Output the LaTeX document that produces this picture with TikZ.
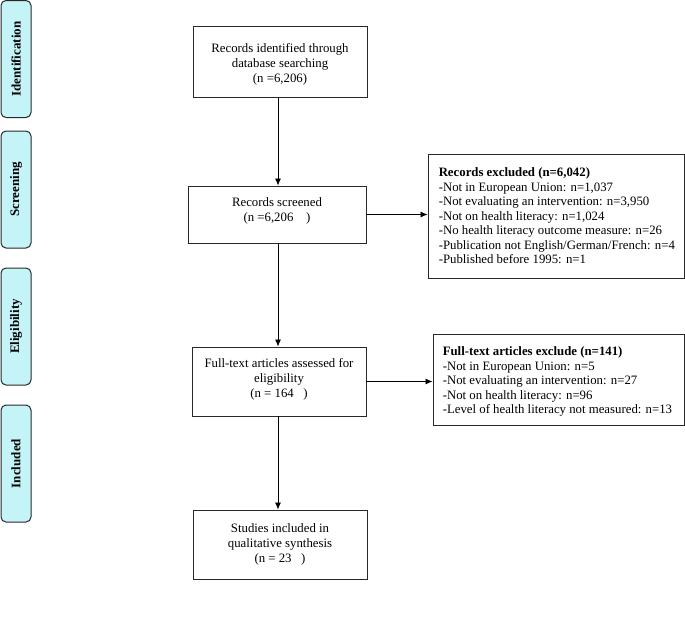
\documentclass[tikz,border=0pt]{standalone}
\usepackage{fontspec}
\setmainfont{Liberation Serif}
\usetikzlibrary{arrows.meta}
\definecolor{stagecyan}{RGB}{196,244,248}
\definecolor{boxline}{RGB}{40,40,40}
\begin{document}
\begin{tikzpicture}[x=1pt,y=-1pt,
  stage/.style={draw=boxline, line width=1pt, rounded corners=5pt, fill=stagecyan,
    rotate=90, minimum width=117pt, minimum height=30pt, inner sep=0pt,
    font=\fontsize{13}{15}\selectfont\bfseries},
  mainbox/.style={draw=boxline, line width=0.9pt, inner sep=0pt,
    align=center, font=\fontsize{12.8}{15}\selectfont},
  sidebox/.style={draw=boxline, line width=0.9pt, inner sep=0pt},
  sidetext/.style={anchor=west, align=left, inner sep=0pt, font=\fontsize{12.8}{14.5}\selectfont},
  flow/.style={draw=black, line width=0.8pt, -{Latex[length=7pt,width=6pt]}}
]
\useasboundingbox (0,0) rectangle (685,616);

% stage labels
\node[stage] (s1) at (16,59) {Identification};
\node[stage] (s2) at (16,189.5) {Screening};
\node[stage] (s3) at (16,326.5) {Eligibility};
\node[stage] (s4) at (16,463.5) {Included};

% main boxes
\node[mainbox, minimum width=174pt, minimum height=71pt] (b1) at (280,61.5)
  {\rule{0pt}{14pt}Records identified through\\database searching\\(n =6,206)};
\node[mainbox, minimum width=178pt, minimum height=57pt] (b2) at (277,214.5)
  {Records screened\\(n =6,206\ \ \ \ )\rule[-9pt]{0pt}{9pt}};
\node[mainbox, minimum width=174pt, minimum height=69pt] (b3) at (279,381.5)
  {Full-text articles assessed for\\eligibility\\(n = 164\ \ \ )\rule[-7pt]{0pt}{7pt}};
\node[mainbox, minimum width=174pt, minimum height=69pt] (b4) at (280,544.5)
  {Studies included in\\qualitative synthesis\\(n = 23\ \ \ )};

% exclusion boxes
\node[sidebox, minimum width=256pt, minimum height=124pt] (r1) at (556,216) {};
\node[sidetext] (r1t) at ([xshift=11pt]r1.west)
  {\textbf{Records excluded (n=6,042)}\\
   -Not in European Union: n=1,037\\
   -Not evaluating an intervention: n=3,950\\
   -Not on health literacy: n=1,024\\
   -No health literacy outcome measure: n=26\\
   -Publication not English/German/French: n=4\\
   -Published before 1995: n=1};
\node[sidebox, minimum width=251pt, minimum height=91pt] (r2) at (558.5,379.5) {};
\node[sidetext] (r2t) at ([xshift=10pt,yshift=-2pt]r2.west)
  {\textbf{Full-text articles exclude (n=141)}\\
   -Not in European Union: n=5\\
   -Not evaluating an intervention: n=27\\
   -Not on health literacy: n=96\\
   -Level of health literacy not measured: n=13};

% connectors
\draw[flow] (b1.south -| 278,0) -- (b2.north -| 278,0);
\draw[flow] (b2.south -| 278,0) -- (b3.north -| 278,0);
\draw[flow] (b3.south -| 278,0) -- (b4.north -| 278,0);
\draw[flow] (b2.east) -- (b2.east -| r1.west);
\draw[flow] (b3.east) -- (b3.east -| r2.west);
\end{tikzpicture}
\end{document}
